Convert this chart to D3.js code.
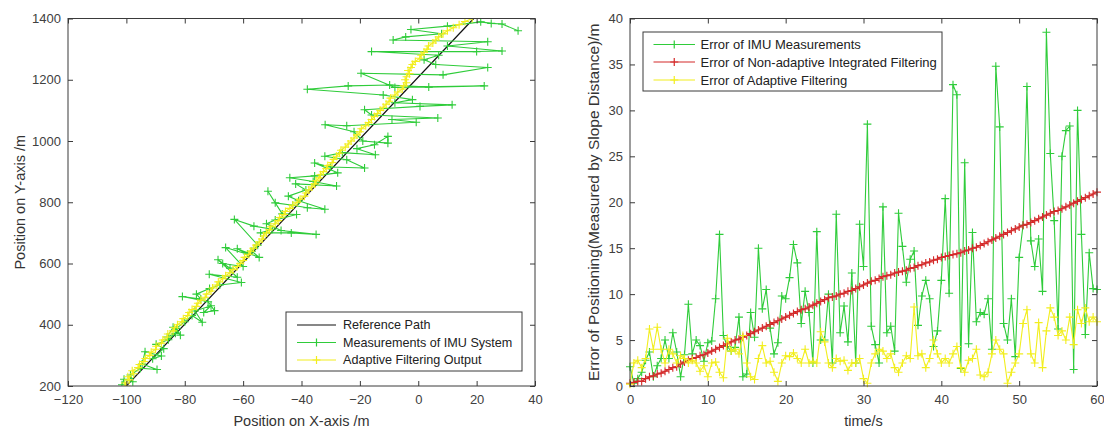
<!DOCTYPE html>
<html>
<head>
<meta charset="utf-8">
<script src="https://cdn.jsdelivr.net/npm/d3@7"></script>
<style>
  html, body { margin: 0; padding: 0; background: #fff; }
  svg { display: block; font-family: "Liberation Sans", Arial, sans-serif; }
</style>
</head>
<body>
<svg id="chart" width="1104" height="430"></svg>
<script>
// ---- Trajectory panel: reference path, IMU measurements, adaptive filter output ----
const refPathX = [-100, 19];
const refPathY = [200, 1400];

const imuPosX = [
  -101.5, -100.8, -97.8, -98.6, -95.2, -89.5, -94.6, -93.6, -88.0, -91.0,
  -87.2, -89.8, -85.6, -83.2, -86.0, -84.0, -81.5, -82.8, -80.0, -77.5,
  -74.0, -76.5, -71.0, -73.5, -69.8, -72.0, -80.8, -74.5, -76.0, -71.5,
  -68.0, -60.6, -71.6, -62.0, -68.6, -64.5, -67.0, -60.0, -66.0, -58.5,
  -62.0, -54.5, -57.0, -55.0, -63.0, -56.3, -50.0, -54.0, -43.5, -35.0,
  -47.0, -52.0, -49.0, -41.7, -46.6, -51.5, -49.0, -43.0, -38.0, -32.0,
  -41.0, -44.5, -38.5, -42.0, -28.0, -36.0, -44.0, -35.5, -27.6, -35.5,
  -30.0, -18.4, -24.5, -32.0, -26.0, -14.7, -21.0, -15.0, -10.4, -10.4,
  -19.0, -22.0, -31.9, -24.5, -0.7, -9.0, 6.7, -16.0, -18.4, 0.6,
  11.6, -8.0, -2.0, -12.0, -38.0, -24.0, -9.8, 3.6, 22.6, -8.0,
  -19.6, 8.5, 23.8, 6.0, 2.0, 7.0, -16.0, 20.0, 28.7, 10.0,
  23.8, -8.6, -4.3, 8.0, -2.5, 10.0, 21.4, 25.0, 28.7, 34.2
];
const imuPosY = [
  204, 222, 214, 236, 258, 254, 272, 312, 298, 289,
  322, 336, 351, 372, 360, 392, 366, 388, 410, 430,
  408, 445, 462, 440, 446, 475, 492, 484, 500, 518,
  530, 538, 565, 555, 612, 585, 600, 590, 652, 630,
  648, 620, 640, 660, 744, 722, 712, 700, 700, 695,
  708, 730, 742, 760, 762, 836, 798, 790, 782, 777,
  805, 820, 840, 860, 853, 868, 880, 886, 896, 928,
  915, 912, 939, 950, 962, 955, 975, 988, 1015, 993,
  1000, 1030, 1053, 1050, 1061, 1070, 1075, 1085, 1102, 1113,
  1118, 1125, 1135, 1150, 1169, 1180, 1183, 1176, 1180, 1175,
  1221, 1216, 1240, 1250, 1265, 1280, 1292, 1292, 1294, 1310,
  1324, 1330, 1340, 1350, 1364, 1375, 1389, 1384, 1382, 1360
];

const filtPosX = [
  -100.0, -100.5, -99.0, -99.5, -97.5, -98.0, -96.0, -95.5, -94.0, -93.5,
  -92.0, -91.5, -90.0, -89.8, -88.0, -87.5, -86.0, -85.8, -84.0, -83.5,
  -82.5, -81.0, -80.5, -79.0, -78.5, -77.5, -76.0, -75.5, -74.5, -73.0,
  -72.5, -71.0, -70.5, -69.0, -68.5, -67.0, -66.0, -64.5, -63.5, -62.0,
  -61.0, -60.0, -59.5, -58.0, -57.5, -56.5, -55.5, -54.5, -53.5, -53.0,
  -52.0, -51.0, -50.5, -49.0, -48.0, -47.5, -46.0, -45.5, -44.0, -43.0,
  -41.5, -40.5, -39.0, -38.5, -37.5, -36.5, -35.5, -35.0, -34.0, -33.5,
  -32.5, -31.5, -31.0, -29.5, -29.0, -28.0, -27.0, -26.5, -25.0, -24.0,
  -23.0, -22.0, -21.0, -20.0, -19.5, -18.0, -17.0, -16.0, -15.0, -14.0,
  -13.0, -12.0, -11.0, -10.0, -9.5, -8.0, -7.0, -5.5, -5.0, -4.0,
  -4.5, -4.0, -3.0, -3.5, -2.5, -2.0, -1.0, 0.5, 1.0, 2.0,
  3.0, 3.5, 5.0, 6.0, 7.0, 8.5, 10.0, 12.0, 14.0, 16.0,
  18.5
];
const filtPosY = [
  200, 210, 220, 230, 240, 250, 260, 270, 280, 290,
  300, 310, 320, 330, 340, 350, 360, 370, 380, 390,
  400, 410, 420, 430, 440, 450, 460, 470, 480, 490,
  500, 510, 520, 530, 540, 550, 560, 570, 580, 590,
  600, 610, 620, 630, 640, 650, 660, 670, 680, 690,
  700, 710, 720, 730, 740, 750, 760, 770, 780, 790,
  800, 810, 820, 830, 840, 850, 860, 870, 880, 890,
  900, 910, 920, 930, 940, 950, 960, 970, 980, 990,
  1000, 1010, 1020, 1030, 1040, 1050, 1060, 1070, 1080, 1090,
  1100, 1110, 1120, 1130, 1140, 1150, 1160, 1170, 1180, 1190,
  1200, 1210, 1220, 1230, 1240, 1250, 1260, 1270, 1280, 1290,
  1300, 1310, 1320, 1330, 1340, 1350, 1360, 1370, 1380, 1390,
  1400
];

const posXTicks = [-120, -100, -80, -60, -40, -20, 0, 20, 40];
const posYTicks = [200, 400, 600, 800, 1000, 1200, 1400];

// ---- Error panel: positioning error over time, one sample every 0.5 s ----
const errImu = [
  2.1, 0.3, 0.8, 1.5, 2.8, 3.7, 1.0, 2.2, 3.0, 5.0,
  3.0, 5.8, 3.7, 1.0, 3.4, 8.9, 3.5, 5.0, 4.4, 2.7,
  4.7, 4.9, 9.5, 16.5, 5.5, 4.3, 3.8, 4.2, 7.5, 1.0,
  1.3, 8.0, 5.3, 15.0, 8.4, 10.5, 6.3, 3.5, 4.7, 9.8,
  9.5, 11.8, 15.4, 13.4, 6.8, 10.3, 8.0, 2.5, 16.8, 5.0,
  5.0, 10.0, 2.5, 18.7, 5.8, 8.7, 4.8, 12.3, 2.5, 17.6,
  13.0, 28.5, 6.5, 4.5, 2.5, 19.5, 5.8, 6.5, 3.8, 18.8,
  15.2, 11.3, 13.8, 14.7, 6.6, 9.8, 11.5, 9.5, 4.3, 6.0,
  11.5, 20.4, 10.1, 32.8, 31.7, 1.9, 24.3, 4.6, 16.7, 7.0,
  8.0, 7.8, 9.5, 4.0, 34.8, 28.2, 6.8, 5.0, 9.5, 3.2,
  14.0, 17.5, 32.6, 15.8, 13.0, 16.0, 10.3, 38.5, 25.3, 18.0,
  6.2, 25.0, 27.8, 28.3, 1.8, 30.0, 16.5, 5.6, 14.5, 10.6,
  10.5
];
const errNonAdaptive = [
  0.3, 0.4, 0.5, 0.5, 0.8, 1.0, 1.1, 1.3, 1.4, 1.6,
  1.8, 2.0, 2.1, 2.4, 2.6, 2.8, 3.0, 3.1, 3.3, 3.4,
  3.6, 3.8, 4.0, 4.2, 4.4, 4.6, 4.8, 5.0, 5.1, 5.3,
  5.5, 5.7, 5.9, 6.1, 6.3, 6.5, 6.7, 6.9, 7.1, 7.3,
  7.5, 7.7, 7.9, 8.1, 8.3, 8.4, 8.6, 8.8, 9.0, 9.2,
  9.4, 9.6, 9.7, 9.8, 10.0, 10.1, 10.3, 10.4, 10.6, 10.8,
  11.0, 11.2, 11.4, 11.5, 11.7, 11.9, 12.0, 12.1, 12.3, 12.4,
  12.5, 12.6, 12.8, 12.9, 13.1, 13.2, 13.4, 13.5, 13.7, 13.8,
  14.0, 14.1, 14.2, 14.3, 14.4, 14.5, 14.7, 14.8, 15.0, 15.1,
  15.3, 15.5, 15.7, 15.9, 16.1, 16.3, 16.5, 16.7, 16.9, 17.1,
  17.3, 17.5, 17.6, 17.8, 18.0, 18.2, 18.4, 18.6, 18.8, 19.0,
  19.1, 19.3, 19.5, 19.7, 19.9, 20.1, 20.3, 20.5, 20.7, 20.9,
  21.1
];
const errAdaptive = [
  0.2, 2.5, 2.8, 2.0, 3.0, 6.2, 4.0, 6.4, 4.0, 2.5,
  4.0, 3.5, 2.5, 3.3, 3.0, 2.5, 2.8, 2.5, 1.6, 2.2,
  1.0, 2.5, 2.6, 1.5, 0.9, 5.2, 3.8, 4.0, 3.5, 5.5,
  2.5, 1.0, 0.7, 3.0, 4.4, 2.5, 2.7, 1.5, 0.5, 2.5,
  3.3, 3.2, 3.6, 3.0, 2.5, 4.0, 2.5, 2.7, 2.5, 5.9,
  4.8, 2.5, 2.0, 3.0, 2.7, 2.8, 1.7, 2.5, 2.5, 3.0,
  0.8, 0.3, 2.5, 3.5, 4.0, 3.8, 3.0, 3.5, 2.0, 1.5,
  2.5, 3.3, 3.0, 8.6, 3.3, 3.5, 2.0, 3.0, 5.0, 3.5,
  2.5, 3.0, 2.5, 3.5, 4.3, 2.0, 1.5, 2.8, 3.0, 4.0,
  1.2, 1.0, 1.5, 3.5, 5.0, 4.0, 3.5, 0.3, 1.5, 2.5,
  3.5, 6.8, 8.3, 3.5, 2.5, 6.9, 2.0, 6.0, 8.5, 7.5,
  5.5, 6.0, 5.0, 7.5, 4.5, 8.3, 6.8, 8.5, 7.0, 7.5,
  7.0
];
const timeTicks = [0, 10, 20, 30, 40, 50, 60];
const errTicks = [0, 5, 10, 15, 20, 25, 30, 35, 40];

// ---- colours and fonts ----
const C_REF = "#111111";
const C_IMU = "#2fcc3a";
const C_RED = "#d42a2a";
const C_YEL = "#f2ee1e";
const C_AXIS = "#3a3a3a";
const FONT = '"Liberation Sans", Arial, sans-serif';

const svg = d3.select("#chart");
svg.append("rect").attr("width", 1104).attr("height", 430).attr("fill", "#fff");

const plusPath = "M-4,0H4M0,-4V4";
const fmt = d3.format("d");

function framedAxes(g, x, y, xTicks, yTicks, w, h) {
  const tick = 5;
  const ax = g.append("g").attr("class", "axes");
  ax.append("g").attr("transform", `translate(0,${h})`)
    .call(d3.axisBottom(x).tickValues(xTicks).tickFormat(fmt).tickSizeInner(-tick).tickSizeOuter(0).tickPadding(9))
    .call(s => s.select(".domain").remove());
  ax.append("g")
    .call(d3.axisTop(x).tickValues(xTicks).tickSizeInner(-tick).tickSizeOuter(0).tickFormat(""))
    .call(s => s.select(".domain").remove());
  ax.append("g")
    .call(d3.axisLeft(y).tickValues(yTicks).tickFormat(fmt).tickSizeInner(-tick).tickSizeOuter(0).tickPadding(7))
    .call(s => s.select(".domain").remove());
  ax.append("g").attr("transform", `translate(${w},0)`)
    .call(d3.axisRight(y).tickValues(yTicks).tickSizeInner(-tick).tickSizeOuter(0).tickFormat(""))
    .call(s => s.select(".domain").remove());
  ax.selectAll(".tick line").attr("stroke", C_AXIS);
  ax.selectAll(".tick text").attr("font-family", FONT).attr("font-size", 13).attr("fill", "#404040");
  g.append("rect").attr("width", w).attr("height", h)
    .attr("fill", "none").attr("stroke", C_AXIS).attr("stroke-width", 1);
}

function series(g, pts, color, markers, width) {
  const line = d3.line().x(d => d[0]).y(d => d[1]);
  g.append("path").attr("d", line(pts)).attr("fill", "none")
    .attr("stroke", color).attr("stroke-width", width || 1.1).attr("stroke-linejoin", "round");
  if (markers) {
    g.append("g").selectAll("path").data(pts).join("path")
      .attr("transform", d => `translate(${d[0]},${d[1]})`)
      .attr("d", plusPath).attr("stroke", color).attr("stroke-width", 1.1).attr("fill", "none");
  }
}

function legend(g, x0, y0, w, h, items, rowY, lineX0, lineX1, textX, fs) {
  const lg = g.append("g");
  lg.append("rect").attr("x", x0).attr("y", y0).attr("width", w).attr("height", h)
    .attr("fill", "#fff").attr("stroke", C_AXIS).attr("stroke-width", 1);
  items.forEach((it, i) => {
    const yy = rowY[i];
    lg.append("line").attr("x1", lineX0).attr("x2", lineX1).attr("y1", yy).attr("y2", yy)
      .attr("stroke", it.color).attr("stroke-width", 1.2);
    if (it.marker) {
      lg.append("path").attr("transform", `translate(${(lineX0 + lineX1) / 2},${yy})`)
        .attr("d", plusPath).attr("stroke", it.color).attr("stroke-width", 1.2);
    }
    lg.append("text").attr("x", textX).attr("y", yy).attr("dy", "0.35em")
      .attr("font-family", FONT).attr("font-size", fs).attr("fill", "#222").text(it.label);
  });
}

// ================= left panel =================
{
  const L = 68, T = 18.5, W = 467, H = 367.5;
  const g = svg.append("g").attr("transform", `translate(${L},${T})`);
  const x = d3.scaleLinear().domain([-120, 40]).range([0, W]);
  const y = d3.scaleLinear().domain([200, 1400]).range([H, 0]);

  g.append("clipPath").attr("id", "clipL").append("rect").attr("width", W).attr("height", H);
  const data = g.append("g").attr("clip-path", "url(#clipL)");

  series(data, refPathX.map((v, i) => [x(v), y(refPathY[i])]), C_REF, false, 1.2);
  series(data, imuPosX.map((v, i) => [x(v), y(imuPosY[i])]), C_IMU, true);
  series(data, filtPosX.map((v, i) => [x(v), y(filtPosY[i])]), C_YEL, true);

  framedAxes(g, x, y, posXTicks, posYTicks, W, H);

  legend(g, 218, 293.5, 236, 59,
    [{label: "Reference Path", color: C_REF, marker: false},
     {label: "Measurements of IMU System", color: C_IMU, marker: true},
     {label: "Adaptive Filtering Output", color: C_YEL, marker: true}],
    [306.5, 324, 341.5], 229, 268, 275, 12.6);

  g.append("text").attr("x", W / 2).attr("y", 407).attr("text-anchor", "middle")
    .attr("font-family", FONT).attr("font-size", 14.5).attr("fill", "#333").text("Position on X-axis /m");
  g.append("text").attr("transform", `translate(${20 - L},${H / 2}) rotate(-90)`)
    .attr("text-anchor", "middle").attr("dy", "0.35em")
    .attr("font-family", FONT).attr("font-size", 14.5).attr("fill", "#333").text("Position on Y-axis /m");
}

// ================= right panel =================
{
  const L = 630, T = 18.5, W = 467, H = 367.5;
  const g = svg.append("g").attr("transform", `translate(${L},${T})`);
  const x = d3.scaleLinear().domain([0, 60]).range([0, W]);
  const y = d3.scaleLinear().domain([0, 40]).range([H, 0]);
  const t = i => i * 60 / (errImu.length - 1);

  series(g, errImu.map((v, i) => [x(t(i)), y(v)]), C_IMU, true);
  series(g, errNonAdaptive.map((v, i) => [x(t(i)), y(v)]), C_RED, true, 1.3);
  series(g, errAdaptive.map((v, i) => [x(t(i)), y(v)]), C_YEL, true);

  framedAxes(g, x, y, timeTicks, errTicks, W, H);

  legend(g, 13, 13.5, 299, 59,
    [{label: "Error of IMU Measurements", color: C_IMU, marker: true},
     {label: "Error of Non-adaptive Integrated Filtering", color: C_RED, marker: true},
     {label: "Error of Adaptive Filtering", color: C_YEL, marker: true}],
    [26, 43.5, 61.5], 23.5, 65, 70.5, 13);

  g.append("text").attr("x", W / 2).attr("y", 407).attr("text-anchor", "middle")
    .attr("font-family", FONT).attr("font-size", 14.5).attr("fill", "#333").text("time/s");
  g.append("text").attr("transform", `translate(${594 - L},${H / 2}) rotate(-90)`)
    .attr("text-anchor", "middle").attr("dy", "0.35em")
    .attr("font-family", FONT).attr("font-size", 15.5).attr("fill", "#333")
    .text("Error of Positioning(Measured by Slope Distance)/m");
}
</script>
</body>
</html>
